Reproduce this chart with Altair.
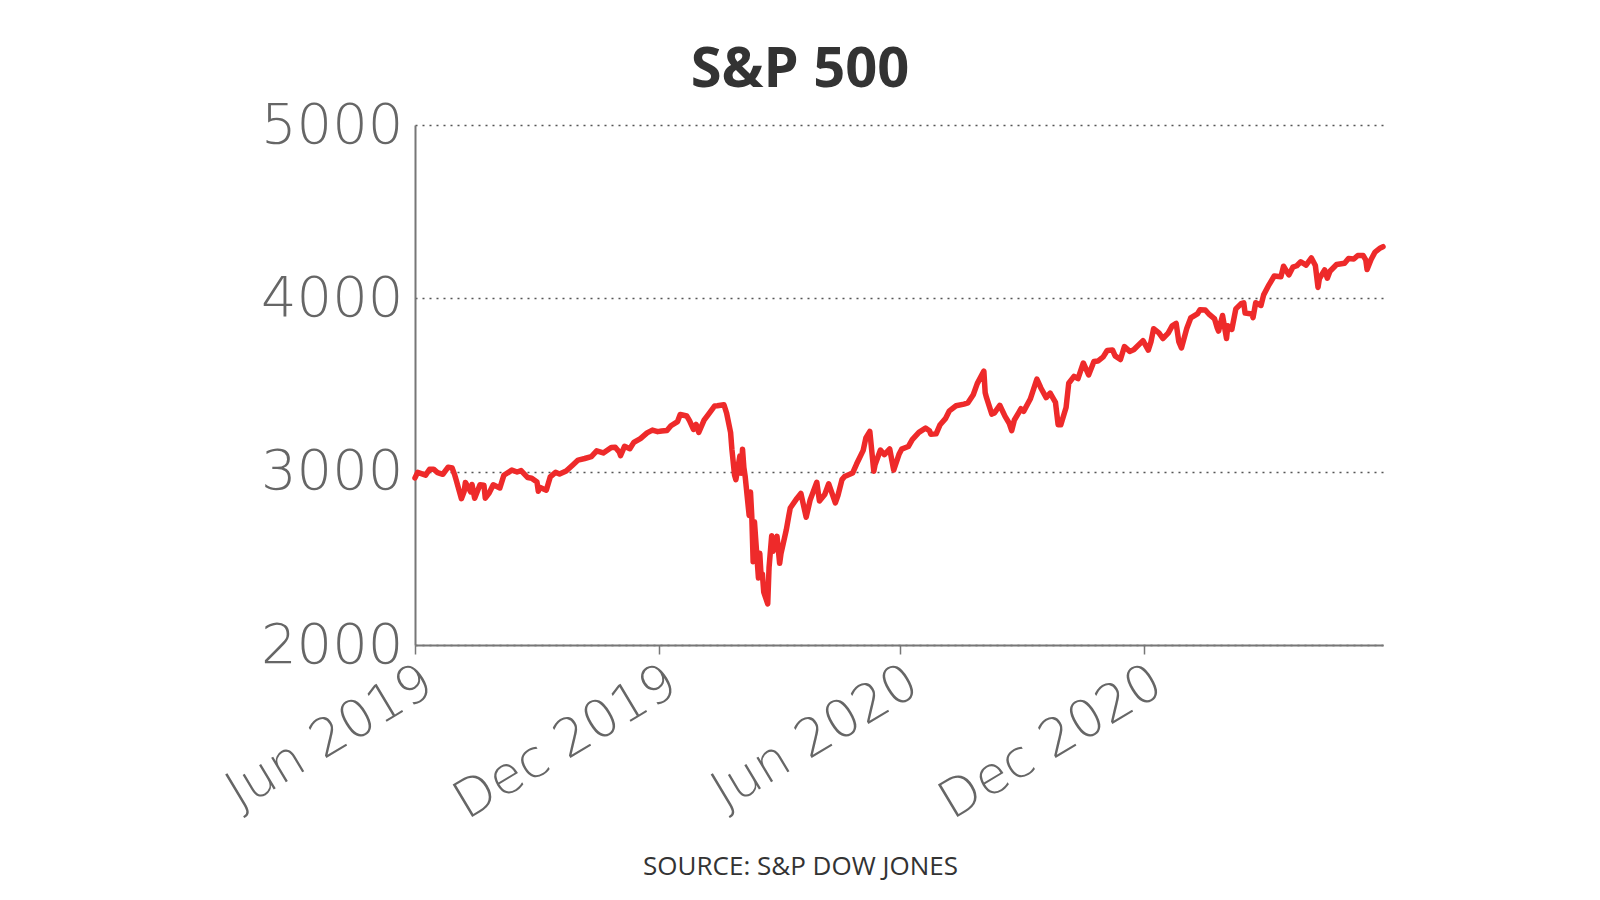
import altair as alt
import pandas as pd

dates = [
"2019-07-01","2019-07-03","2019-07-09","2019-07-12","2019-07-15","2019-07-18","2019-07-22","2019-07-26","2019-07-29","2019-07-31",
"2019-08-01","2019-08-05","2019-08-07","2019-08-08","2019-08-12","2019-08-13","2019-08-15","2019-08-19","2019-08-22","2019-08-23",
"2019-08-26","2019-08-29","2019-09-03","2019-09-06","2019-09-12","2019-09-16","2019-09-19","2019-09-24","2019-09-27","2019-10-01",
"2019-10-02","2019-10-03","2019-10-08","2019-10-11","2019-10-15","2019-10-18","2019-10-23","2019-10-28","2019-11-01","2019-11-06",
"2019-11-11","2019-11-15","2019-11-20","2019-11-26","2019-11-29","2019-12-02","2019-12-03","2019-12-06","2019-12-10","2019-12-13",
"2019-12-18","2019-12-23","2019-12-27","2019-12-31",
"2020-01-03","2020-01-07","2020-01-10","2020-01-15","2020-01-17","2020-01-22","2020-01-24","2020-01-27","2020-01-29","2020-01-31",
"2020-02-04","2020-02-07","2020-02-12","2020-02-14","2020-02-19","2020-02-21","2020-02-24","2020-02-25","2020-02-27","2020-02-28",
"2020-03-02","2020-03-03","2020-03-04","2020-03-05","2020-03-06","2020-03-09","2020-03-10","2020-03-11","2020-03-12","2020-03-13",
"2020-03-16","2020-03-17","2020-03-18","2020-03-19","2020-03-20","2020-03-23","2020-03-24","2020-03-26","2020-03-27","2020-03-30",
"2020-04-01","2020-04-02","2020-04-06","2020-04-08","2020-04-09","2020-04-14","2020-04-17","2020-04-21","2020-04-24","2020-04-29",
"2020-05-01","2020-05-05","2020-05-08","2020-05-13","2020-05-15","2020-05-18","2020-05-20","2020-05-26","2020-05-29","2020-06-03",
"2020-06-05","2020-06-08","2020-06-11","2020-06-12","2020-06-16","2020-06-19","2020-06-23","2020-06-26","2020-06-30","2020-07-02",
"2020-07-07","2020-07-10","2020-07-15","2020-07-20","2020-07-23","2020-07-24","2020-07-28","2020-07-31","2020-08-04","2020-08-07",
"2020-08-12","2020-08-18","2020-08-21","2020-08-25","2020-08-28","2020-09-02","2020-09-03","2020-09-04","2020-09-08","2020-09-10",
"2020-09-14","2020-09-18","2020-09-21","2020-09-23","2020-09-25","2020-09-30","2020-10-02","2020-10-07","2020-10-12","2020-10-15",
"2020-10-19","2020-10-22","2020-10-26","2020-10-28","2020-10-30","2020-11-03","2020-11-05","2020-11-09","2020-11-12","2020-11-16",
"2020-11-20","2020-11-24","2020-11-27","2020-12-01","2020-12-04","2020-12-08","2020-12-10","2020-12-14","2020-12-17","2020-12-21",
"2020-12-24","2020-12-31",
"2021-01-04","2021-01-06","2021-01-08","2021-01-12","2021-01-15","2021-01-19","2021-01-22","2021-01-25","2021-01-27","2021-01-29",
"2021-02-02","2021-02-05","2021-02-10","2021-02-12","2021-02-16","2021-02-19","2021-02-23","2021-02-25","2021-02-26","2021-03-01",
"2021-03-04","2021-03-05","2021-03-08","2021-03-11","2021-03-15","2021-03-17","2021-03-18","2021-03-23","2021-03-24","2021-03-26",
"2021-03-30","2021-04-01","2021-04-05","2021-04-09","2021-04-14","2021-04-16","2021-04-20","2021-04-23","2021-04-26","2021-04-29",
"2021-05-03","2021-05-07","2021-05-10","2021-05-12","2021-05-13","2021-05-17","2021-05-19","2021-05-21","2021-05-26","2021-06-01",
"2021-06-04","2021-06-08","2021-06-11","2021-06-15","2021-06-17","2021-06-18","2021-06-21","2021-06-24","2021-06-28","2021-06-30",
]

values = [
2964,2996,2980,3014,3014,2995,2985,3026,3021,2980,
2953,2844,2884,2938,2883,2926,2847,2924,2922,2847,
2878,2924,2906,2979,3009,2998,3006,2966,2962,2940,
2887,2910,2893,2970,2996,2986,3004,3039,3067,3076,
3087,3120,3108,3140,3141,3114,3093,3146,3132,3169,
3191,3224,3240,3231,
3235,3238,3265,3289,3330,3321,3295,3244,3273,3226,
3297,3328,3379,3380,3386,3338,3226,3128,2979,2954,
3090,2991,3130,3024,2972,2747,2882,2741,2481,2711,
2386,2529,2398,2409,2305,2237,2447,2630,2541,2627,
2471,2527,2664,2750,2790,2846,2875,2737,2837,2939,
2831,2868,2930,2820,2864,2954,2972,2992,3044,3123,
3194,3232,3002,3041,3125,3098,3131,3009,3100,3130,
3145,3185,3227,3251,3236,3216,3218,3271,3306,3351,
3380,3390,3397,3444,3508,3580,3455,3427,3332,3339,
3383,3319,3281,3237,3298,3363,3348,3419,3534,3483,
3427,3453,3400,3271,3270,3370,3510,3550,3537,3627,
3558,3635,3638,3662,3699,3702,3668,3647,3722,3694,
3703,3756,
3701,3748,3825,3801,3768,3799,3841,3855,3750,3714,
3826,3887,3910,3934,3933,3907,3881,3829,3811,3901,
3768,3842,3821,3939,3969,3974,3915,3910,3889,3975,
3959,4020,4078,4129,4124,4185,4135,4180,4188,4211,
4192,4233,4189,4063,4113,4164,4116,4156,4195,4202,
4230,4227,4247,4247,4222,4166,4224,4267,4291,4298,
]

y_ticks = [2000, 3000, 4000, 5000]
x_ticks = ["2019-07-01", "2020-01-01", "2020-07-01", "2021-01-01"]

df = pd.DataFrame({"date": [d + "T00:00:00" for d in dates], "value": values})

FONT = "Open Sans"
LABEL_FONT = "DejaVu Sans"

def dt(s):
    y, m, d = s.split("-")
    return alt.DateTime(year=int(y), month=int(m), date=int(d))

chart = alt.Chart(df).mark_line(
    color="#ee2a2a", strokeWidth=5.5, strokeJoin="round", strokeCap="round"
).encode(
    x=alt.X(
        "date:T",
        scale=alt.Scale(domain=[dt("2019-07-01"), dt("2021-06-30")], nice=False),
        axis=alt.Axis(
            values=[dt(s) for s in x_ticks],
            labelExpr="timeFormat(timeOffset('month', datum.value, -1), '%b %Y')",
            labelAngle=-31,
            labelFontSize=52,
            labelFont=LABEL_FONT,
            labelFontWeight=200,
            labelColor="#666666",
            labelPadding=2,
            labelLimit=600,
            labelOverlap=False,
            labelFlush=False,
            tickSize=9,
            tickColor="#777777",
            tickWidth=1.5,
            domainColor="#777777",
            domainWidth=2,
            grid=False,
            title="SOURCE: S&P DOW JONES",
            titleFont=FONT,
            titleFontSize=26,
            titleFontWeight="normal",
            titleColor="#333333",
            titleX=385,
            titleY=221,
            titleAlign="center",
            titleBaseline="middle",
        ),
    ),
    y=alt.Y(
        "value:Q",
        scale=alt.Scale(domain=[2000, 5000], nice=False, zero=False),
        axis=alt.Axis(
            values=y_ticks,
            format="d",
            labelFontSize=56,
            labelFont=LABEL_FONT,
            labelFontWeight=200,
            labelColor="#666666",
            labelPadding=12,
            ticks=False,
            domainColor="#777777",
            domainWidth=2,
            grid=True,
            gridColor="#555555",
            gridDash=[2, 5],
            gridWidth=1.5,
            title=None,
            labelBaseline="middle",
        ),
    ),
).properties(
    width=968,
    height=520,
    autosize=alt.AutoSizeParams(type="none"),
    padding={"left": 407, "top": 117, "right": 200, "bottom": 240},
    title=alt.TitleParams(
        "S&P 500",
        font=FONT,
        fontSize=56,
        fontWeight="bold",
        color="#333333",
        anchor="middle",
        dx=-99,
        offset=-2,
    ),
).configure_view(stroke=None)

chart.save("out.html", embed_options={"renderer": "svg", "actions": False})
